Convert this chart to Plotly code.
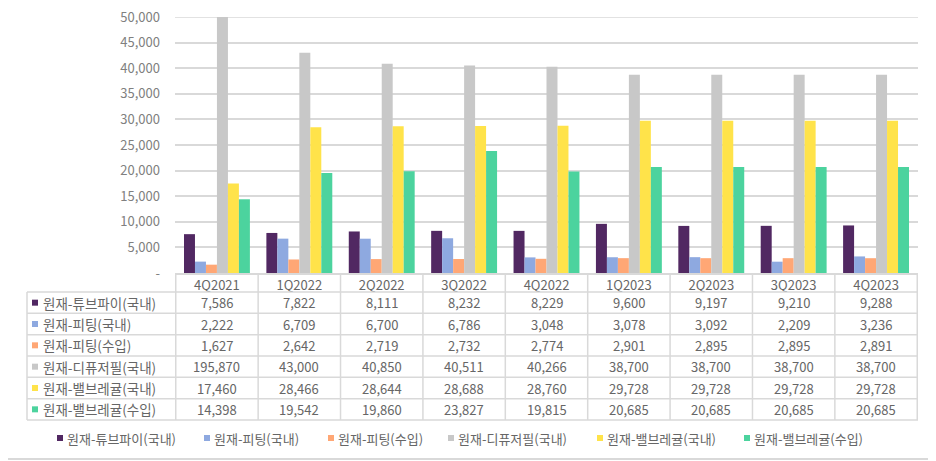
import plotly.graph_objects as go

categories = ["4Q2021", "1Q2022", "2Q2022", "3Q2022", "4Q2022", "1Q2023", "2Q2023", "3Q2023", "4Q2023"]
series_names = ["원재-튜브파이(국내)", "원재-피팅(국내)", "원재-피팅(수입)",
                "원재-디퓨저필(국내)", "원재-밸브레귤(국내)", "원재-밸브레귤(수입)"]
tube_dom = [7586, 7822, 8111, 8232, 8229, 9600, 9197, 9210, 9288]
fitting_dom = [2222, 6709, 6700, 6786, 3048, 3078, 3092, 2209, 3236]
fitting_imp = [1627, 2642, 2719, 2732, 2774, 2901, 2895, 2895, 2891]
diffuser_dom = [195870, 43000, 40850, 40511, 40266, 38700, 38700, 38700, 38700]
valve_dom = [17460, 28466, 28644, 28688, 28760, 29728, 29728, 29728, 29728]
valve_imp = [14398, 19542, 19860, 23827, 19815, 20685, 20685, 20685, 20685]
series_values = [tube_dom, fitting_dom, fitting_imp, diffuser_dom, valve_dom, valve_imp]
colors = ["#512862", "#8EA9E0", "#FFA775", "#C8C8C8", "#FFE34A", "#4CD39E"]
y_ticks = [0, 5000, 10000, 15000, 20000, 25000, 30000, 35000, 40000, 45000, 50000]
y_max = 50000

# page has an 8px body margin, so map target screen pixels to figure coordinates
W, H = 936, 461
OFF = 8
def px(x): return (x - OFF) / W
def py(y): return 1 - (y - OFF) / H

FONT = "Noto Sans CJK KR"
TXT = "#666666"
LINE = "#D9D9D9"

fig = go.Figure()
for name, vals, col in zip(series_names, series_values, colors):
    fig.add_trace(go.Bar(x=categories, y=vals, name=name, showlegend=False,
                         marker=dict(color=col, line=dict(width=0))))

shapes = []
annotations = []
ncat = len(categories)
axis_y = 273
row_top = 292
row_bot = 420
nrows = len(series_names)
rh = (row_bot - row_top) / nrows
left_x = 27
right_x = 918

# top gridline at the axis maximum (drawn below the bars)
shapes.append(dict(type="line", xref="paper", yref="y", x0=px(175), x1=px(right_x),
                   y0=y_max, y1=y_max, layer="below", line=dict(color=LINE, width=1.5)))

# vertical table lines at category boundaries
for k in range(ncat + 1):
    shapes.append(dict(type="line", xref="x", yref="paper", x0=k - 0.5, x1=k - 0.5,
                       y0=py(axis_y), y1=py(row_bot), line=dict(color=LINE, width=1.5)))
shapes.append(dict(type="line", xref="paper", yref="paper", x0=px(left_x), x1=px(left_x),
                   y0=py(row_top), y1=py(row_bot), line=dict(color=LINE, width=1.5)))
for r in range(nrows + 1):
    yy = row_top + r * rh
    shapes.append(dict(type="line", xref="paper", yref="paper", x0=px(left_x), x1=px(right_x),
                       y0=py(yy), y1=py(yy), line=dict(color=LINE, width=1.5)))
for r, (name, vals, col) in enumerate(zip(series_names, series_values, colors)):
    yc = row_top + (r + 0.5) * rh
    shapes.append(dict(type="rect", xref="paper", yref="paper", x0=px(32), x1=px(38),
                       y0=py(yc + 3), y1=py(yc - 3), fillcolor=col, line=dict(width=0)))
    annotations.append(dict(text=name, xref="paper", yref="paper", x=px(41), y=py(yc),
                            xanchor="left", yanchor="middle", showarrow=False,
                            font=dict(family=FONT, size=13.5, color=TXT)))
    for c, v in zip(categories, vals):
        annotations.append(dict(text=f"{v:,}", xref="x", yref="paper", x=c, y=py(yc),
                                xanchor="center", yanchor="middle", showarrow=False,
                                font=dict(family=FONT, size=13, color=TXT)))

# legend (bottom), small square keys followed by names
legend_x = [57, 204, 328, 448, 597, 744]
legend_y = 438
for lx, name, col in zip(legend_x, series_names, colors):
    shapes.append(dict(type="rect", xref="paper", yref="paper", x0=px(lx), x1=px(lx + 6),
                       y0=py(legend_y + 3), y1=py(legend_y - 3), fillcolor=col, line=dict(width=0)))
    annotations.append(dict(text=name, xref="paper", yref="paper", x=px(lx + 8), y=py(legend_y),
                            xanchor="left", yanchor="middle", showarrow=False,
                            font=dict(family=FONT, size=13, color=TXT)))

# outer frame (right and bottom edges visible)
shapes.append(dict(type="line", xref="paper", yref="paper", x0=px(933), x1=px(933),
                   y0=py(459), y1=1, line=dict(color=LINE, width=2)))
shapes.append(dict(type="line", xref="paper", yref="paper", x0=0, x1=px(933),
                   y0=py(459), y1=py(459), line=dict(color=LINE, width=2)))

fig.update_layout(
    width=W, height=H, autosize=False,
    margin=dict(l=0, r=0, t=0, b=0, autoexpand=False),
    paper_bgcolor="white", plot_bgcolor="white",
    barmode="group", bargap=0.2, bargroupgap=0, showlegend=False,
    font=dict(family=FONT, size=12, color=TXT),
    xaxis=dict(domain=[px(175), px(right_x)], showline=True, linecolor=LINE, linewidth=1.5,
               showgrid=False, ticks="", automargin=False, tickfont=dict(size=13, color=TXT)),
    yaxis=dict(domain=[py(axis_y), py(17)], range=[0, y_max], tickvals=y_ticks,
               ticktext=["-" if t == 0 else f"{t:,}" for t in y_ticks], automargin=False,
               ticklabeloverflow="allow",
               showgrid=True, gridcolor=LINE, gridwidth=1.5, zeroline=False, showline=False,
               ticks="", ticklabelstandoff=14, tickfont=dict(size=13, color="#808080")),
    shapes=shapes, annotations=annotations,
)
fig.write_html("out.html")
